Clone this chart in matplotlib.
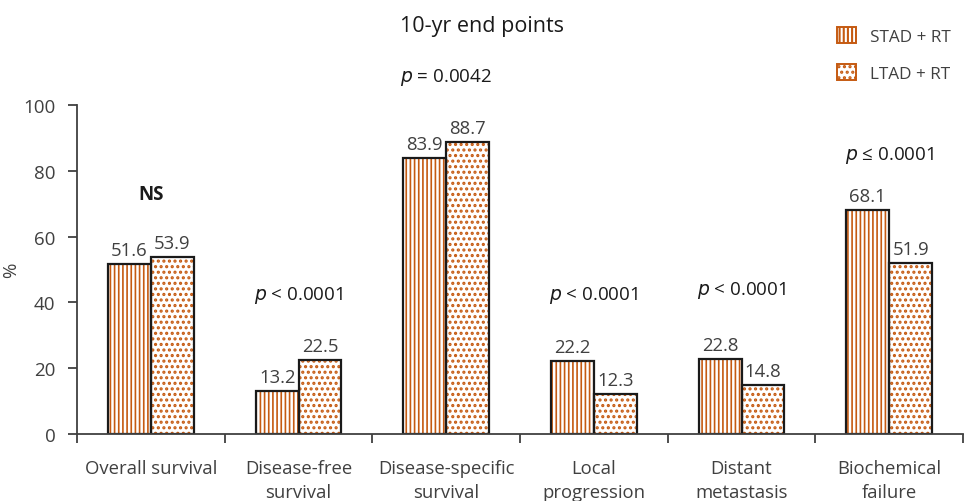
import numpy as np
import matplotlib
matplotlib.use('Agg')
import matplotlib.pyplot as plt
from matplotlib.patches import Patch

plt.rcParams['font.family'] = ['Open Sans', 'DejaVu Sans']

categorias = ['Overall survival', 'Disease-free\nsurvival', 'Disease-specific\nsurvival',
              'Local\nprogression', 'Distant\nmetastasis', 'Biochemical\nfailure']
stad = [51.6, 13.2, 83.9, 22.2, 22.8, 68.1]
ltad = [53.9, 22.5, 88.7, 12.3, 14.8, 51.9]
p_textos = ['NS', '$p$ < 0.0001', '$p$ = 0.0042', '$p$ < 0.0001', '$p$ < 0.0001', '$p$ ≤ 0.0001']
p_alturas = [73, 42.5, 108.5, 42.5, 44, 85]

laranja = '#c55a11'
cinza = '#404040'

fig = plt.figure(figsize=(9.64, 5.02), dpi=100)
ax = fig.add_axes([0.080, 0.1335, 0.919, 0.6555])

x = np.arange(len(categorias))
w = 0.29

# barras com hachura laranja e contorno preto por cima
plt.rcParams['hatch.linewidth'] = 1.2
ax.bar(x - w/2, stad, w, facecolor='white', edgecolor=laranja, hatch='||||', linewidth=0)
linhas = Patch(facecolor='white', edgecolor=laranja, hatch='||||')
plt.rcParams['hatch.linewidth'] = 1.5
ax.bar(x + w/2, ltad, w, facecolor='white', edgecolor=laranja, hatch='...', linewidth=0)
pontos = Patch(facecolor='white', edgecolor=laranja, hatch='...')
ax.bar(x - w/2, stad, w, fill=False, edgecolor='#1a1a1a', linewidth=1.6)
ax.bar(x + w/2, ltad, w, fill=False, edgecolor='#1a1a1a', linewidth=1.6)

for i in range(len(x)):
    ax.text(x[i] - w/2, stad[i] + 1.5, f'{stad[i]:.1f}', ha='center', va='bottom', fontsize=13.3, color=cinza)
    ax.text(x[i] + w/2, ltad[i] + 1.5, f'{ltad[i]:.1f}', ha='center', va='bottom', fontsize=13.3, color=cinza)
    peso = 'bold' if p_textos[i] == 'NS' else 'normal'
    ax.text(x[i], p_alturas[i], p_textos[i], ha='center', va='center', fontsize=13.5,
            color='#1a1a1a', fontweight=peso, clip_on=False)

ax.set_xlim(-0.5, 5.5)
ax.set_ylim(0, 100)
ax.set_yticks(range(0, 101, 20))
ax.set_xticks(x)
ax.set_xticklabels(categorias, fontsize=13.3, color=cinza, linespacing=1.45)
ax.set_xticks(np.arange(-0.5, 5.6, 1), minor=True)
ax.tick_params(axis='x', which='major', length=0, pad=18)
ax.tick_params(axis='x', which='minor', length=6.5, width=1.3, color=cinza)
ax.tick_params(axis='y', length=6.5, width=1.3, pad=9, color=cinza, labelsize=13.5,
               labelcolor=cinza, direction='out')
ax.set_ylabel('%', fontsize=13.5, color=cinza, labelpad=2)

for s in ['top', 'right']:
    ax.spines[s].set_visible(False)
for s in ['left', 'bottom']:
    ax.spines[s].set_color(cinza)
    ax.spines[s].set_linewidth(1.3)

fig.text(0.5, 0.947, '10-yr end points', ha='center', va='center', fontsize=15.5, color='#1a1a1a')

leg = fig.legend([linhas, pontos], ['STAD + RT', 'LTAD + RT'], loc='upper right', bbox_to_anchor=(1.002, 0.975),
                 frameon=False, fontsize=12.3, handlelength=1.1, handleheight=1.1, labelspacing=1.1,
                 handletextpad=0.8)
for h in leg.legend_handles:
    h.set_linewidth(1.4)
for t in leg.get_texts():
    t.set_color(cinza)

fig.savefig('out.png', dpi=100)
